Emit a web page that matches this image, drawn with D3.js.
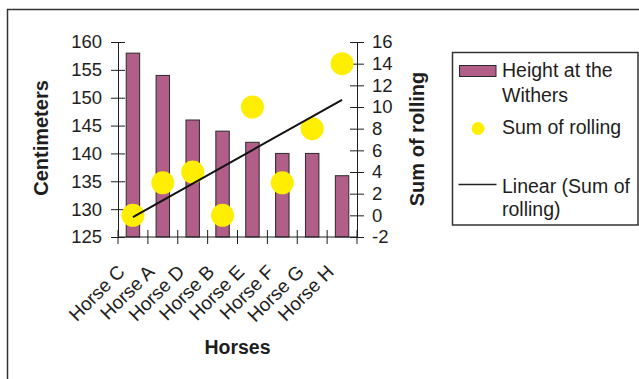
<!DOCTYPE html>
<html>
<head>
<meta charset="utf-8">
<script src="https://cdn.jsdelivr.net/npm/d3@7"></script>
<style>
  html, body { margin: 0; padding: 0; background: #fff; }
  svg { display: block; font-family: "Liberation Sans", Arial, sans-serif; }
</style>
</head>
<body>
<svg id="chart" width="639" height="379"></svg>
<script>
// Horses in plotted order
const horses = ["Horse C", "Horse A", "Horse D", "Horse B", "Horse E", "Horse F", "Horse G", "Horse H"];
// Height at the withers (cm) — left axis
const heightWithers = [158, 154, 146, 144, 142, 140, 140, 136];
// Sum of rolling — right axis
const sumRolling = [0, 3, 4, 0, 10, 3, 8, 14];
// Axis ticks
const leftTicks = [125, 130, 135, 140, 145, 150, 155, 160];
const rightTicks = [-2, 0, 2, 4, 6, 8, 10, 12, 14, 16];

const ink = "#1e1e1e";
const barFill = "#b15e88";
const dotFill = "#ffee00";

const svg = d3.select("#chart");
const plot = { left: 118, right: 357, top: 42, bottom: 237 };

// Outer chart border
svg.append("rect")
  .attr("x", 7.5).attr("y", 9.5)
  .attr("width", 660).attr("height", 400)
  .attr("fill", "none").attr("stroke", "#333").attr("stroke-width", 1.5);

const x = d3.scaleBand().domain(horses).range([plot.left, plot.right]).paddingInner(0).paddingOuter(0);
const yL = d3.scaleLinear().domain([125, 160]).range([plot.bottom, plot.top]);
const yR = d3.scaleLinear().domain([-2, 16]).range([plot.bottom, plot.top]);

// Bars
const barW = x.bandwidth() * 0.45;
svg.append("g").selectAll("rect")
  .data(horses)
  .join("rect")
  .attr("x", (d) => x(d) + x.bandwidth() / 2 - barW / 2)
  .attr("y", (d, i) => yL(heightWithers[i]))
  .attr("width", barW)
  .attr("height", (d, i) => yL(125) - yL(heightWithers[i]))
  .attr("fill", barFill)
  .attr("stroke", "#2a2a2a")
  .attr("stroke-width", 1);

// Axes (ticks cross the axis lines)
function styleAxis(g) {
  g.selectAll(".domain").attr("stroke", ink).attr("stroke-width", 1);
  g.selectAll(".tick line").attr("stroke", ink).attr("stroke-width", 1);
  g.selectAll("text").attr("fill", ink).attr("font-size", 18.5)
    .attr("font-family", "'Liberation Sans', Arial, sans-serif");
}
const plain = (d) => String(d);

const gL = svg.append("g").attr("transform", `translate(${plot.left},0)`)
  .call(d3.axisLeft(yL).tickValues(leftTicks).tickFormat(plain).tickSizeOuter(0).tickSize(7));
gL.selectAll(".tick line").attr("x2", -7).attr("x1", 7);
styleAxis(gL);
gL.selectAll(".tick text").attr("x", -16);

const gR = svg.append("g").attr("transform", `translate(${plot.right},0)`)
  .call(d3.axisRight(yR).tickValues(rightTicks).tickFormat(plain).tickSizeOuter(0).tickSize(7));
gR.selectAll(".tick line").attr("x1", -7).attr("x2", 7);
styleAxis(gR);
gR.selectAll(".tick text").attr("x", 15);

// Category axis: ticks on band boundaries
const gB = svg.append("g").attr("transform", `translate(0,${plot.bottom})`);
gB.append("line").attr("x1", plot.left).attr("x2", plot.right)
  .attr("stroke", ink).attr("stroke-width", 1);
const bounds = horses.map((h) => x(h)).concat([plot.right]);
gB.selectAll("line.tk").data(bounds).join("line").attr("class", "tk")
  .attr("x1", (d) => d).attr("x2", (d) => d)
  .attr("y1", -7).attr("y2", 7)
  .attr("stroke", ink).attr("stroke-width", 1);
gB.selectAll("text").data(horses).join("text")
  .attr("transform", (d) => `translate(${x(d) + x.bandwidth() / 2 - 7},36) rotate(-45)`)
  .attr("text-anchor", "end")
  .attr("font-size", 19)
  .attr("fill", ink)
  .text((d) => d);

// Dots
const cx = (d) => x(d) + x.bandwidth() / 2;
svg.append("g").selectAll("circle")
  .data(horses)
  .join("circle")
  .attr("cx", cx)
  .attr("cy", (d, i) => yR(sumRolling[i]))
  .attr("r", 11.5)
  .attr("fill", dotFill);

// Linear trend of sum of rolling (least squares over category index)
const n = sumRolling.length;
const idx = d3.range(1, n + 1);
const mx = d3.mean(idx), my = d3.mean(sumRolling);
const slope = d3.sum(idx, (v, i) => (v - mx) * (sumRolling[i] - my)) / d3.sum(idx, (v) => (v - mx) ** 2);
const intercept = my - slope * mx;
svg.append("line")
  .attr("x1", cx(horses[0])).attr("y1", yR(intercept + slope * 1))
  .attr("x2", cx(horses[n - 1])).attr("y2", yR(intercept + slope * n))
  .attr("stroke", "#111").attr("stroke-width", 2);

// Axis titles
svg.append("text")
  .attr("transform", `translate(48,138) rotate(-90)`)
  .attr("text-anchor", "middle").attr("font-weight", "bold")
  .attr("font-size", 20).attr("fill", ink).text("Centimeters");
svg.append("text")
  .attr("transform", `translate(424,139) rotate(-90)`)
  .attr("text-anchor", "middle").attr("font-weight", "bold")
  .attr("font-size", 20).attr("fill", ink).text("Sum of rolling");
svg.append("text")
  .attr("x", (plot.left + plot.right) / 2).attr("y", 354)
  .attr("text-anchor", "middle").attr("font-weight", "bold")
  .attr("font-size", 19.5).attr("fill", ink).text("Horses");

// Legend
const lg = svg.append("g");
lg.append("rect").attr("x", 452.5).attr("y", 52.5).attr("width", 185.5).attr("height", 172.5)
  .attr("fill", "#fff").attr("stroke", "#333").attr("stroke-width", 1.5);
lg.append("rect").attr("x", 459.5).attr("y", 65.5).attr("width", 36.5).attr("height", 11)
  .attr("fill", barFill).attr("stroke", "#2a2a2a").attr("stroke-width", 1);
lg.append("circle").attr("cx", 478).attr("cy", 128.5).attr("r", 6.5).attr("fill", dotFill);
lg.append("line").attr("x1", 458.5).attr("x2", 496.5).attr("y1", 184.5).attr("y2", 184.5)
  .attr("stroke", "#222").attr("stroke-width", 1.5);
const legendText = [
  ["Height at the", 77], ["Withers", 101.5],
  ["Sum of rolling", 134], ["Linear (Sum of", 192.5], ["rolling)", 216]
];
lg.selectAll("text.lt").data(legendText).join("text").attr("class", "lt")
  .attr("x", 502).attr("y", (d) => d[1])
  .attr("font-size", 19.5).attr("fill", ink).text((d) => d[0]);
</script>
</body>
</html>
